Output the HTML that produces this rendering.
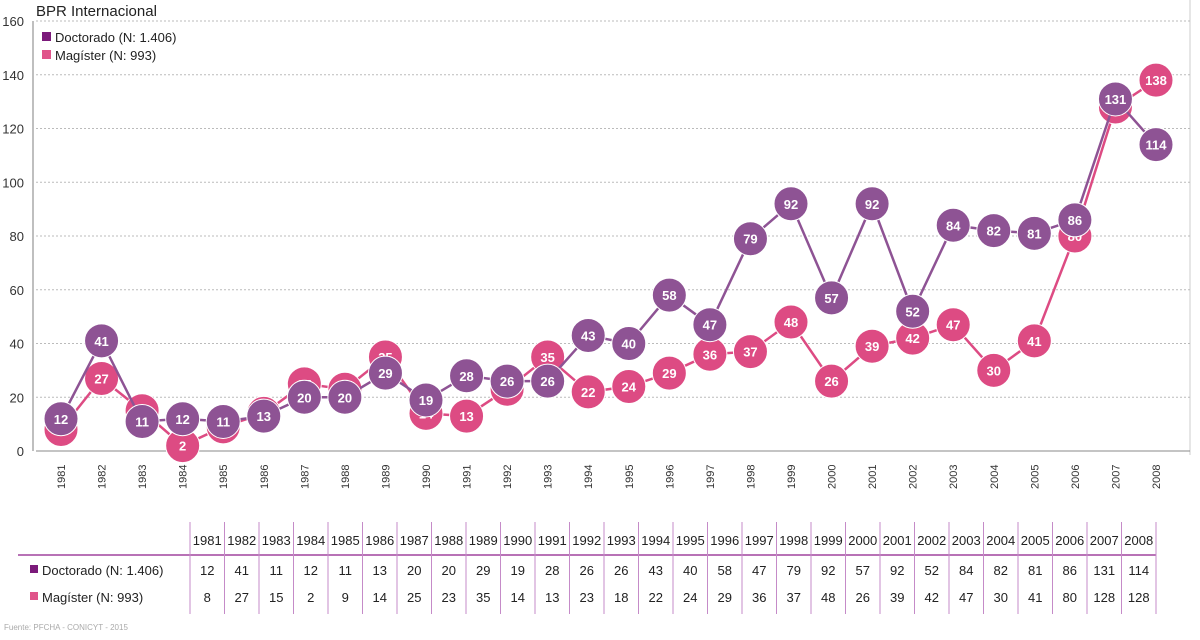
<!DOCTYPE html>
<html><head><meta charset="utf-8"><style>
body{margin:0;background:#fff;font-family:"Liberation Sans","DejaVu Sans",sans-serif}
svg text{font-family:"Liberation Sans","DejaVu Sans",sans-serif}
</style></head><body>
<svg id="c" width="1200" height="635" viewBox="0 0 1200 635">
<text x="36" y="16" font-size="15" fill="#222">BPR Internacional</text>
<rect x="42" y="32" width="9" height="9" fill="#7b1a7a"/>
<text x="55" y="42" font-size="13" fill="#222">Doctorado (N: 1.406)</text>
<rect x="42" y="50" width="9" height="9" fill="#e0548a"/>
<text x="55" y="60" font-size="13" fill="#222">Magíster (N: 993)</text>
<line x1="1190" y1="0" x2="1190" y2="455" stroke="#ccc"/>
<g id="grid"></g><g id="lines"></g><g id="table"></g>
<text x="4" y="630" font-size="8" fill="#aaa">Fuente: PFCHA - CONICYT - 2015</text>
</svg>
<script>
const years=[1981,1982,1983,1984,1985,1986,1987,1988,1989,1990,1991,1992,1993,1994,1995,1996,1997,1998,1999,2000,2001,2002,2003,2004,2005,2006,2007,2008];
const doctorado=[12,41,11,12,11,13,20,20,29,19,28,26,26,43,40,58,47,79,92,57,92,52,84,82,81,86,131,114];
const magister=[8,27,15,2,9,14,25,23,35,14,13,23,35,22,24,29,36,37,48,26,39,42,47,30,41,80,128,138];
const magisterTable=[8,27,15,2,9,14,25,23,35,14,13,23,18,22,24,29,36,37,48,26,39,42,47,30,41,80,128,128];
const yTicks=[0,20,40,60,80,100,120,140,160];
const NS='http://www.w3.org/2000/svg';
const X0=61,X1=1156,Y0=451,Y1=21,YMAX=160;
const xs=i=>X0+(X1-X0)*i/(years.length-1);
const ys=v=>Y0-(Y0-Y1)*v/YMAX;
function mk(p,t,a){const e=document.createElementNS(NS,t);for(const k in a)e.setAttribute(k,a[k]);p.appendChild(e);return e;}
const g=document.getElementById('grid');
yTicks.forEach(v=>{
 const l=mk(g,'line',{x1:36,x2:1190,y1:ys(v),y2:ys(v),stroke:v?'#bbb':'#888','stroke-dasharray':v?'2,2':''});
 
 
 const t=mk(g,'text',{x:24,y:ys(v)+5,'font-size':13,fill:'#333','text-anchor':'end'});t.textContent=v;
 
 
});
const ax=mk(g,'line',{x1:33,x2:33,y1:21,y2:451,stroke:'#aaa','stroke-width':1.5});


years.forEach((y,i)=>{
 const t=mk(g,'text',{transform:`translate(${xs(i)+4},489) rotate(-90)`,'font-size':11,fill:'#333'});t.textContent=y;
 
 
});
const L=document.getElementById('lines');
function series(vals,col,name){
 const p=mk(L,'polyline',{points:vals.map((v,i)=>xs(i)+','+ys(v)).join(' '),fill:'none',stroke:col,'stroke-width':2.5});
 
 
 vals.forEach((v,i)=>{
  const c=mk(L,'circle',{cx:xs(i),cy:ys(v),r:17,fill:col,stroke:'#fff','stroke-width':1});
  
  
  const t=mk(L,'text',{x:xs(i),y:ys(v)+5,'font-size':13,'font-weight':'bold',fill:'#fff','text-anchor':'middle'});t.textContent=v;
  
  
 });
}
series(magister,'#dd4b83','magister');
series(doctorado,'#8e5394','doctorado');
const T=document.getElementById('table');
const TX=190,CW=34.5;
const hl=mk(T,'line',{x1:18,x2:1156,y1:555,y2:555,stroke:'#a0449e','stroke-width':1.5});


for(let i=0;i<=years.length;i++){
 const l=mk(T,'line',{x1:TX+i*CW,x2:TX+i*CW,y1:522,y2:614,stroke:'#c58bc8','stroke-width':1});
 
 
}
const r1=mk(T,'rect',{x:30,y:565,width:8,height:8,fill:'#7b1a7a'});


const t1=mk(T,'text',{x:42,y:575,'font-size':13,fill:'#222'});t1.textContent='Doctorado (N: 1.406)';


const r2=mk(T,'rect',{x:30,y:592,width:8,height:8,fill:'#e0548a'});


const t2=mk(T,'text',{x:42,y:602,'font-size':13,fill:'#222'});t2.textContent='Magíster (N: 993)';


years.forEach((y,i)=>{
 const cx=TX+i*CW+CW/2;
 const h=mk(T,'text',{x:cx,y:545,'font-size':13,fill:'#222','text-anchor':'middle'});h.textContent=y;
 
 
 const a=mk(T,'text',{x:cx,y:575,'font-size':13,fill:'#222','text-anchor':'middle'});a.textContent=doctorado[i];
 
 
 const b=mk(T,'text',{x:cx,y:602,'font-size':13,fill:'#222','text-anchor':'middle'});b.textContent=magisterTable[i];
 
 
});
</script>
</body></html>
